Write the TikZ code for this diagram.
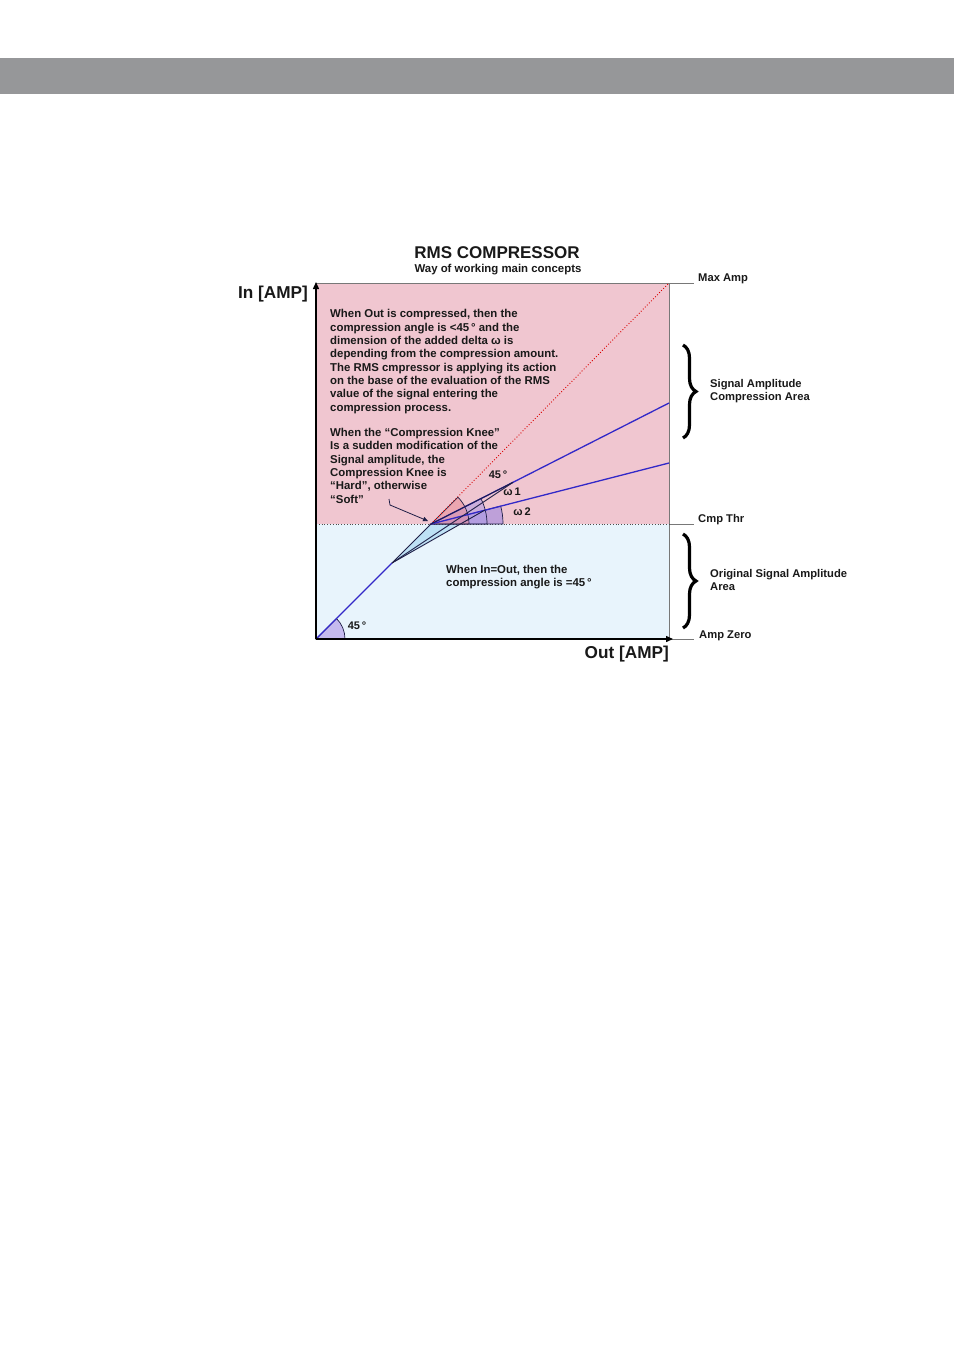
\documentclass[tikz,border=0pt]{standalone}
\usepackage{fontspec}
\setmainfont{Liberation Sans}
\usetikzlibrary{arrows.meta,decorations.pathreplacing}
\definecolor{barGray}{RGB}{150,151,153}
\definecolor{pinkArea}{RGB}{240,198,208}
\definecolor{blueArea}{RGB}{232,244,252}
\definecolor{lineBlue}{RGB}{50,40,200}
\definecolor{darkLine}{RGB}{30,30,70}
\definecolor{sectRed}{RGB}{232,140,150}
\definecolor{sectPurple}{RGB}{150,130,225}
\definecolor{cyanFill}{RGB}{190,225,245}
\definecolor{txt}{RGB}{25,25,25}
\definecolor{frameGray}{RGB}{120,120,120}
\begin{document}
\begin{tikzpicture}[x=1pt,y=-1pt,
  body/.style={font=\fontsize{11.4}{13.33}\selectfont\bfseries, text=txt, align=left, inner sep=0pt, anchor=north west},
  side/.style={font=\fontsize{11.2}{13.6}\selectfont\bfseries, text=txt, align=left, inner sep=0pt, anchor=west},
  axislbl/.style={font=\fontsize{17.2}{19}\selectfont\bfseries, text=txt, inner sep=0pt},
  anglbl/.style={font=\fontsize{11}{12}\selectfont\bfseries, text=txt, inner sep=0pt},
  tick/.style={frameGray, line width=0.8pt},
  axis/.style={black, line width=1.4pt, -{Triangle[length=7pt,width=6pt]}},
  compline/.style={lineBlue, line width=1.3pt},
  kneeline/.style={darkLine, line width=0.9pt},
  sector/.style={fill opacity=0.55, draw=darkLine, draw opacity=1, line width=0.7pt},
  bracestyle/.style={decorate, decoration={brace, amplitude=13pt}, line width=3.2pt, black}]
\useasboundingbox (0,0) rectangle (954,1350);
\fill[white] (0,0) rectangle (954,1350);
\fill[barGray] (0,58) rectangle (954,94);

% key points
\coordinate (O) at (316,639);
\coordinate (TL) at (316,283);
\coordinate (TR) at (669,283);
\coordinate (BR) at (669,639);
\coordinate (TE) at (669,524);
\coordinate (TS) at (316,524);
\coordinate (K) at (431,524);
\coordinate (B) at (392,563);
\coordinate (Q1) at (513,482.3);
\coordinate (Q2) at (485,510);
\coordinate (C2) at (460.4,524);
\coordinate (L1) at (669,403);
\coordinate (L2) at (669,463);
\coordinate (MaxT) at (694,283);
\coordinate (ThrT) at (694,524);
\coordinate (ZeroT) at (694,639);
\coordinate (Xend) at (673,639);
\coordinate (Yend) at (316,282);

% areas
\fill[pinkArea] (TL) rectangle (TE);
\fill[blueArea] (TS) rectangle (BR);
\fill[cyanFill] (B) -- (K) -- (C2) -- cycle;

% frame
\draw[tick] (TL) -- (MaxT);
\draw[tick] (TR) -- (BR);
\draw[tick] (TE) -- (ThrT);
\draw[tick] (BR) -- (ZeroT);
\draw[black!70, line width=0.8pt, dotted] (TS) -- (TE);

% sectors at knee (negative angles because the y axis points down)
\filldraw[sector, fill=sectPurple] (K) -- ++(72,0) arc[start angle=0, end angle=-14.4, radius=72] -- cycle;
\filldraw[sector, fill=sectPurple!80] (K) -- ++(56,0) arc[start angle=0, end angle=-27, radius=56] -- cycle;
\filldraw[sector, fill=sectRed] (K) -- ++(38,0) arc[start angle=0, end angle=-45, radius=38] -- cycle;
% origin sector
\filldraw[fill=sectPurple!55, draw=darkLine, line width=0.7pt] (O) -- ++(29,0) arc[start angle=0, end angle=-45, radius=29] -- cycle;

% lines
\draw[red!85!black, line width=0.9pt, dotted] (K) -- (TR);
\draw[compline] (O) -- (B);
\draw[compline] (K) -- (L1);
\draw[compline] (K) -- (L2);
\draw[kneeline] (B) -- (K);
\draw[kneeline] (K) -- (Q1);
\draw[kneeline] (B) -- (Q1);
\draw[kneeline] (B) -- (Q2);

% axes
\draw[axis] (O) -- (Yend);
\draw[axis] (O) -- (Xend);

% texts
\node[font=\fontsize{17}{19}\selectfont\bfseries, text=txt] (title) at (497,253) {RMS COMPRESSOR};
\node[font=\fontsize{11.4}{13}\selectfont\bfseries, text=txt] (subtitle) at (498,270) {Way of working main concepts};
\node[axislbl, anchor=east] (inlbl) at (308,294) {In [AMP]};
\node[axislbl, anchor=east] (outlbl) at (669,654) {Out [AMP]};

\node[body] (p1) at (330,309.5) {When Out is compressed, then the\\
compression angle is <45\,° and the\\
dimension of the added delta ω is\\
depending from the compression amount.\\
The RMS cmpressor is applying its action\\
on the base of the evaluation of the RMS\\
value of the signal entering the\\
compression process.};
\node[body] (p2) at (330,428) {When the “Compression Knee”\\
Is a sudden modification of the\\
Signal amplitude, the\\
Compression Knee is\\
“Hard”, otherwise\\
“Soft”};
\node[body] (p3) at (446,565) {When In=Out, then the\\
compression angle is =45\,°};

\coordinate (S1) at (389,499);
\coordinate (S2) at (390,505);
\coordinate (S3) at (428,521);
\draw[darkLine, line width=0.8pt, -{Triangle[length=5pt,width=4.5pt]}] (S1) -- (S2) -- (S3);

\node[anglbl] (a45) at (498,475) {45\,°};
\node[anglbl] (w1) at (512,492) {ω\,1};
\node[anglbl] (w2) at (522,512) {ω\,2};
\node[anglbl] (a45o) at (357,626) {45\,°};

\node[side] (maxamp) at (698,279) {Max Amp};
\node[side] (cmpthr) at (698,520) {Cmp Thr};
\node[side] (ampzero) at (699,636) {Amp Zero};
\node[side] (sigcomp) at (710,391) {Signal Amplitude\\Compression Area};
\node[side] (origsig) at (710,580) {Original Signal Amplitude\\Area};

\coordinate (Br1a) at (683,345);
\coordinate (Br1b) at (683,438);
\coordinate (Br2a) at (683,534);
\coordinate (Br2b) at (683,628);
\draw[bracestyle] (Br1a) -- (Br1b);
\draw[bracestyle] (Br2a) -- (Br2b);
\end{tikzpicture}
\end{document}
